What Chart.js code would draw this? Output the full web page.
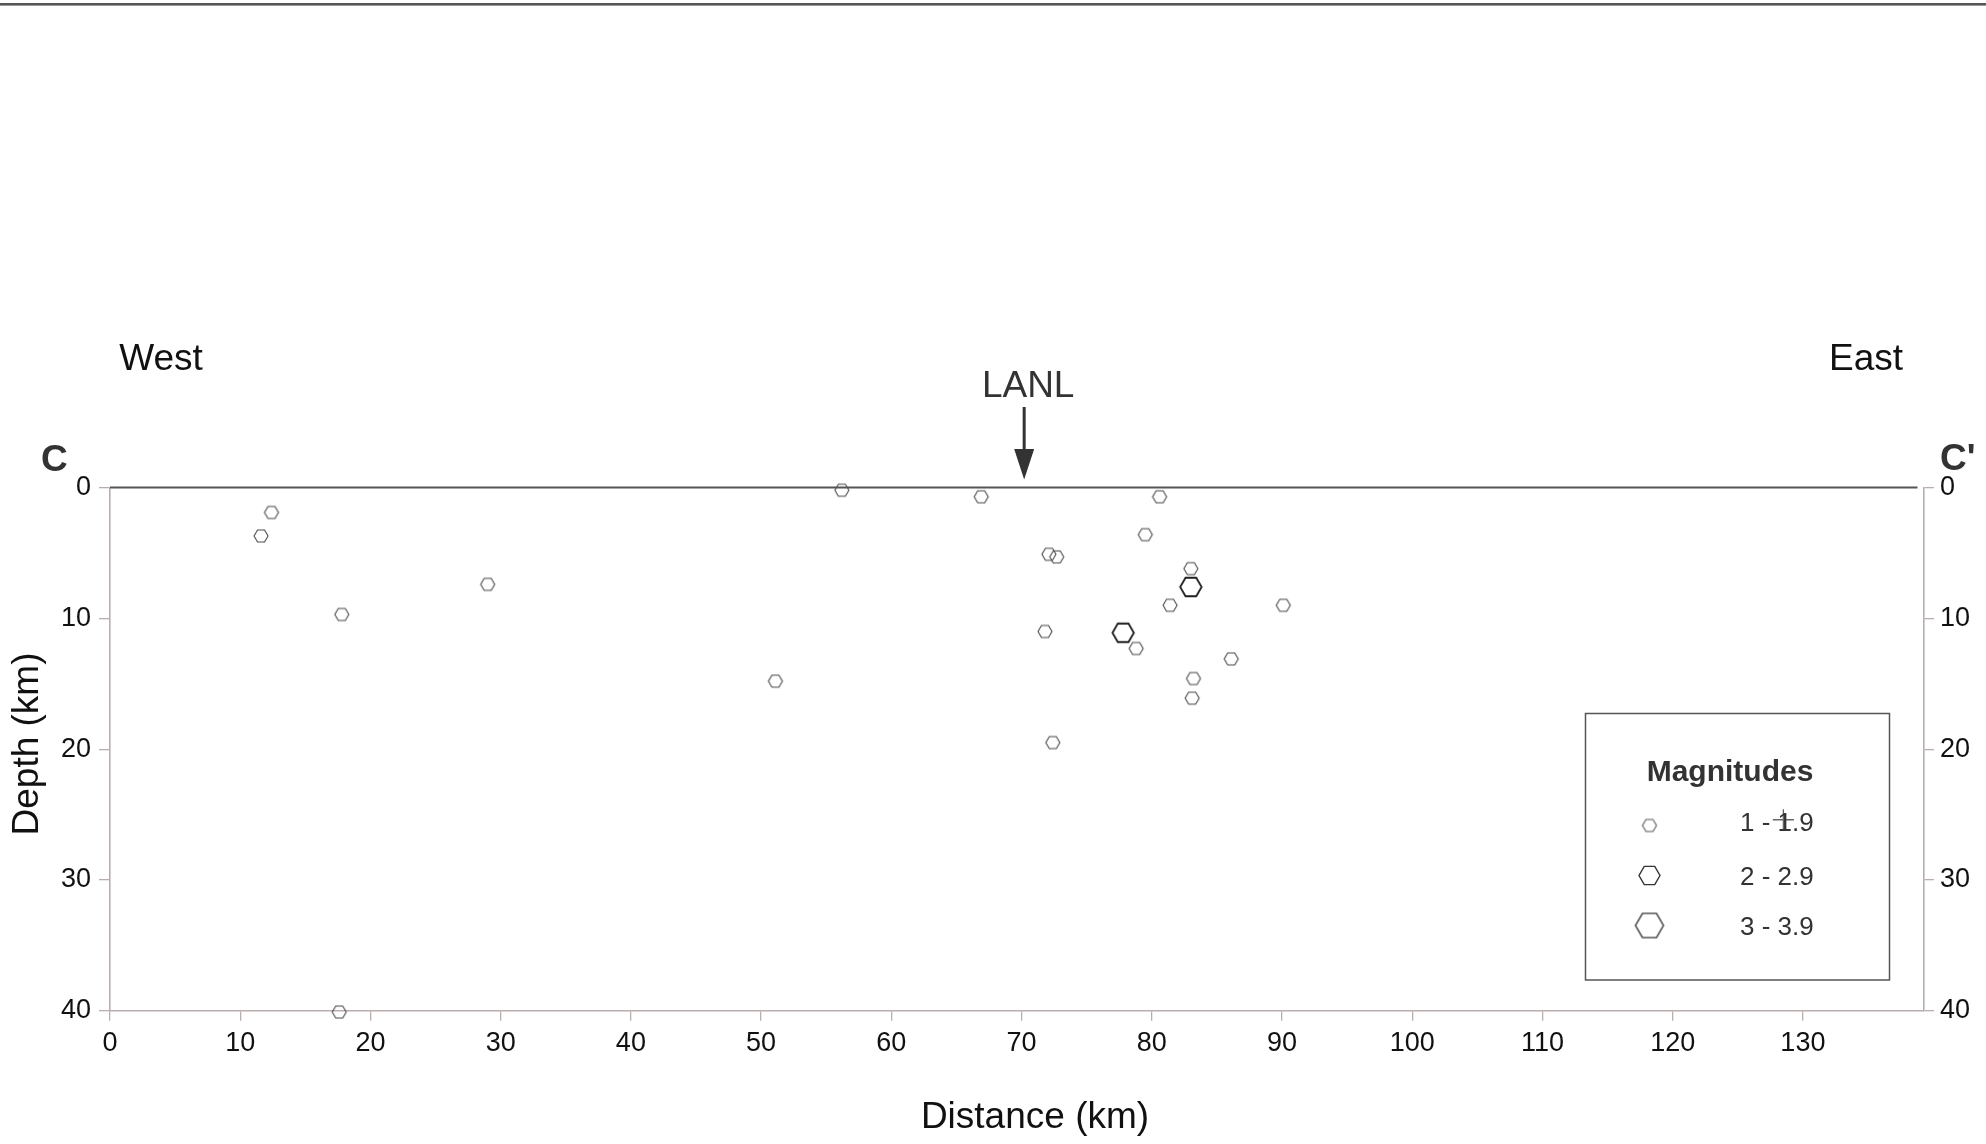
<!DOCTYPE html>
<html>
<head>
<meta charset="utf-8">
<style>
  html, body { margin: 0; padding: 0; background: #fff; }
  #wrap { width: 1986px; height: 1144px; position: relative; }
</style>
<script src="https://cdn.jsdelivr.net/npm/chart.js@4.4.1/dist/chart.umd.min.js"></script>
</head>
<body>
<div id="wrap"><canvas id="c"></canvas></div>
<script>
// ---------- data ----------
const distTicks = [0, 10, 20, 30, 40, 50, 60, 70, 80, 90, 100, 110, 120, 130];
const depthTicks = [0, 10, 20, 30, 40];

// magnitude 1 - 1.9 events
const mag1Dist  = [12.4, 11.6, 17.8, 29.0, 17.6, 51.1, 56.2, 66.9, 80.6, 79.5, 72.1, 72.7, 83.0, 81.4, 90.1, 71.8, 78.8, 86.1, 83.2, 83.1, 72.4];
const mag1Depth = [1.9,  3.7,  9.7,  7.4,  40.1, 14.8, 0.2,  0.7,  0.7,  3.6,  5.1,  5.3,  6.2,  9.0,  9.0,  11.0, 12.3, 13.1, 14.6, 16.1, 19.5];

// magnitude 2 - 2.9 events
const mag2Dist  = [83.0, 77.8];
const mag2Depth = [7.6, 11.1];

// magnitude 3 - 3.9 events (none on this section)
const mag3Dist  = [];
const mag3Depth = [];

// stray cross mark visible in the legend area
const crossDist  = [128.5];
const crossDepth = [25.4];

const legendLabels = ['1 - 1.9', '2 - 2.9', '3 - 3.9'];
const lanlDist = 70.2;
const surfaceEnd = 138.8;
const xMax = 139.3;

// ---------- helpers ----------
const FONT = '"Liberation Sans", Arial, Helvetica, sans-serif';
const toPts = (xs, ys) => xs.map((x, i) => ({ x: x, y: ys[i] }));

function hexCanvas(r, color, lw) {
  const pad = Math.ceil(lw) + 1;
  const size = Math.ceil(2 * r) + 2 * pad;
  const c = document.createElement('canvas');
  c.width = size; c.height = size;
  const g = c.getContext('2d');
  g.strokeStyle = color; g.lineWidth = lw; g.lineJoin = 'miter';
  g.beginPath();
  for (let i = 0; i < 6; i++) {
    const a = Math.PI / 3 * i;
    const px = size / 2 + r * Math.cos(a), py = size / 2 + r * Math.sin(a);
    if (i) g.lineTo(px, py); else g.moveTo(px, py);
  }
  g.closePath(); g.stroke();
  return c;
}

const hexSmall = hexCanvas(7, '#4a4a4a', 1.1);
const hexMed   = hexCanvas(10.7, '#1e1e1e', 1.8);
const hexLarge = hexCanvas(14, '#333', 1.4);
const hexLegSmall = hexCanvas(7, '#5a5a5a', 1.1);
const hexLegMed   = hexCanvas(10.5, '#333', 1.4);

const AXIS = '#b9adad';

const annotations = {
  id: 'annotations',
  afterDraw(chart) {
    const { ctx, chartArea, scales } = chart;
    const xs = scales.x, ys = scales.y;
    ctx.save();

    // top rule of the page
    ctx.fillStyle = '#555';
    ctx.fillRect(0, 3, 1986, 2);
    ctx.fillStyle = '#9a9a9a';
    ctx.fillRect(0, 5, 1986, 1);

    // ground surface line (depth 0)
    const y0 = ys.getPixelForValue(0);
    ctx.strokeStyle = '#555';
    ctx.lineWidth = 2;
    ctx.beginPath();
    ctx.moveTo(xs.getPixelForValue(0), y0);
    ctx.lineTo(xs.getPixelForValue(surfaceEnd), y0);
    ctx.stroke();

    // axis titles
    ctx.fillStyle = '#111';
    ctx.font = '37px ' + FONT;
    ctx.textAlign = 'center';
    ctx.textBaseline = 'middle';
    ctx.fillText('Distance (km)', 1035, 1118);
    ctx.save();
    ctx.translate(28, 744);
    ctx.rotate(-Math.PI / 2);
    ctx.fillText('Depth (km)', 0, 0);
    ctx.restore();

    // West / East
    ctx.textBaseline = 'alphabetic';
    ctx.font = '37px ' + FONT;
    ctx.fillText('West', 161, 370);
    ctx.fillText('East', 1866, 370);

    // C and C'
    ctx.fillStyle = '#333';
    ctx.font = 'bold 37px ' + FONT;
    ctx.textAlign = 'left';
    ctx.fillText('C', 41, 471);
    ctx.fillText("C'", 1940, 470);

    // LANL label and arrow
    const ax = xs.getPixelForValue(lanlDist);
    ctx.font = '37px ' + FONT;
    ctx.textAlign = 'center';
    ctx.fillStyle = '#333';
    ctx.fillText('LANL', ax + 4, 397);
    ctx.strokeStyle = '#333';
    ctx.lineWidth = 3;
    ctx.beginPath();
    ctx.moveTo(ax, 407);
    ctx.lineTo(ax, 452);
    ctx.stroke();
    ctx.beginPath();
    ctx.moveTo(ax - 10, 449);
    ctx.lineTo(ax + 10, 449);
    ctx.lineTo(ax, 479.5);
    ctx.closePath();
    ctx.fill();

    // legend box
    ctx.strokeStyle = '#555';
    ctx.lineWidth = 1.5;
    ctx.strokeRect(1585.5, 713.5, 304, 266.5);
    ctx.fillStyle = '#333';
    ctx.font = 'bold 30px ' + FONT;
    ctx.textAlign = 'center';
    ctx.fillText('Magnitudes', 1730, 781);
    const legHex = [hexLegSmall, hexLegMed, hexLarge];
    const legCy = [825.5, 875.5, 925.5];
    const legBase = [830.5, 884.5, 934.5];
    ctx.font = '26px ' + FONT;
    ctx.textAlign = 'left';
    for (let i = 0; i < 3; i++) {
      const h = legHex[i];
      ctx.drawImage(h, 1649.5 - h.width / 2, legCy[i] - h.height / 2);
      ctx.fillText(legendLabels[i], 1740, legBase[i]);
    }
    ctx.restore();
  }
};

const tickFont = { family: FONT, size: 27 };

new Chart(document.getElementById('c'), {
  type: 'scatter',
  data: {
    datasets: [
      { label: '1 - 1.9', data: toPts(mag1Dist, mag1Depth), pointStyle: hexSmall, pointRadius: 7, clip: false },
      { label: '2 - 2.9', data: toPts(mag2Dist, mag2Depth), pointStyle: hexMed, pointRadius: 11, clip: false },
      { label: '3 - 3.9', data: toPts(mag3Dist, mag3Depth), pointStyle: hexLarge, pointRadius: 14, clip: false },
      { label: 'cross', data: toPts(crossDist, crossDepth), pointStyle: 'cross', pointRadius: 10.5,
        borderColor: '#666', borderWidth: 1.3, clip: false }
    ]
  },
  options: {
    responsive: true,
    maintainAspectRatio: false,
    animation: false,
    devicePixelRatio: 1,
    events: [],
    layout: { padding: { top: 487.6, left: 0, right: 0, bottom: 0 } },
    plugins: { legend: { display: false }, tooltip: { enabled: false }, title: { display: false } },
    scales: {
      x: {
        type: 'linear', position: 'bottom', min: 0, max: xMax,
        afterBuildTicks: s => { s.ticks = distTicks.map(v => ({ value: v })); },
        ticks: { font: { family: FONT, size: 27 }, color: '#111', padding: 6.5, maxRotation: 0, autoSkip: false },
        grid: { drawOnChartArea: false, drawTicks: true, tickLength: 10, color: AXIS, lineWidth: 1.3 },
        border: { display: true, color: AXIS, width: 1.6 },
        title: { display: false },
        afterFit: s => { s.height = 133.3; }
      },
      y: {
        type: 'linear', position: 'left', reverse: true, min: 0, max: 40,
        afterBuildTicks: s => { s.ticks = depthTicks.map(v => ({ value: v })); },
        ticks: { font: tickFont, color: '#111', padding: 8 },
        grid: { drawOnChartArea: false, drawTicks: true, tickLength: 11, color: AXIS, lineWidth: 1.3 },
        border: { display: true, color: AXIS, width: 1.6 },
        title: { display: false },
        afterFit: s => { s.width = 110; }
      },
      y2: {
        type: 'linear', position: 'right', reverse: true, min: 0, max: 40,
        afterBuildTicks: s => { s.ticks = depthTicks.map(v => ({ value: v })); },
        ticks: { font: tickFont, color: '#111', padding: 6 },
        grid: { drawOnChartArea: false, drawTicks: true, tickLength: 10, color: AXIS, lineWidth: 1.3 },
        border: { display: true, color: AXIS, width: 1.6 },
        afterFit: s => { s.width = 62; }
      }
    }
  },
  plugins: [annotations]
});
</script>
</body>
</html>
